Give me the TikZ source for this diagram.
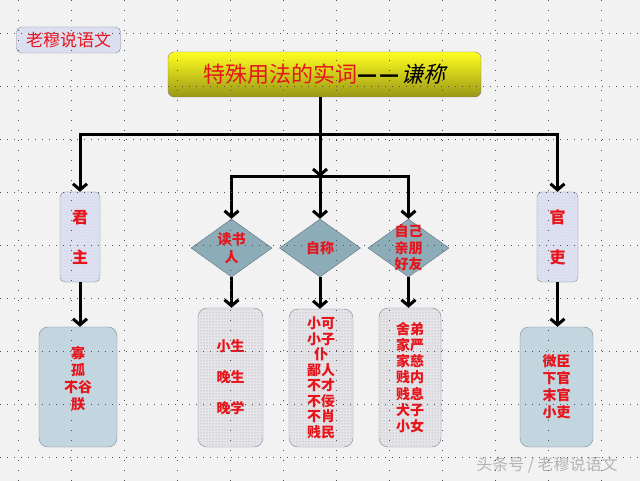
\documentclass[tikz,border=0pt]{standalone}
\usepackage{fontspec}
\usepackage{xcolor}
\usetikzlibrary{arrows.meta,positioning,shapes.geometric,patterns}
\newfontfamily\cjk{Noto Sans CJK SC}
\newfontfamily\cjkit[FakeSlant=0.25]{Noto Sans CJK SC}
\definecolor{bgc}{HTML}{F2F2F2}
\definecolor{redc}{HTML}{E8141C}
\definecolor{edgec}{HTML}{7D8A99}
\definecolor{lavc}{HTML}{D9DDEE}
\definecolor{bluec}{HTML}{C3D5DE}
\definecolor{diac}{HTML}{8CADB8}
\definecolor{dotc}{HTML}{505050}
\definecolor{stipc}{HTML}{E6E6EA}
\definecolor{ylwtop}{HTML}{FFFF20}
\definecolor{ylwbot}{HTML}{9A9616}
\definecolor{wmc}{HTML}{B4B4B4}
\tikzset{
  ar/.style={-{Straight Barb[length=6pt,width=14pt]},line width=3pt,black},
  txt/.style={text=redc,align=center},
  tagbox/.style={draw=edgec,rounded corners=5pt,fill=lavc,
    postaction={pattern=dots,pattern color=white},txt,inner sep=0pt},
  bluebox/.style={draw=edgec,rounded corners=9pt,fill=bluec,txt,inner sep=0pt},
  dotbox/.style={draw=edgec,rounded corners=9pt,fill=stipc,
    postaction={pattern=dots,pattern color=gray!80},txt,inner sep=0pt},
  dia/.style={diamond,draw=edgec!80!black,fill=diac,minimum width=81pt,minimum height=58pt,inner sep=0pt},
  dtxt/.style={txt,font=\cjk\bfseries\fontsize{14}{16.5}\selectfont,inner sep=0pt},
  titlebox/.style={draw=gray,rounded corners=6pt,top color=ylwtop,middle color=yellow!92!black,
    bottom color=ylwbot,minimum width=313pt,minimum height=45pt,inner sep=0pt},
  gdv/.style={dotc,line width=0.8pt,dash pattern=on 0.8pt off 9.2pt},
  gdh/.style={dotc,line width=0.8pt,dash pattern=on 0.8pt off 6.2pt}
}

\begin{document}
\begin{tikzpicture}[x=1pt,y=-1pt]
\useasboundingbox[fill=bgc] (0,0) rectangle (640,481);

\node[tagbox,minimum width=104pt,minimum height=26pt,font=\cjk\fontsize{17}{20}\selectfont] (tag) at (68.5,40) {老穆说语文};
\node[titlebox,font=\cjk\fontsize{22}{24}\selectfont] (title) at (324.5,74.5)
  {\textcolor{redc}{特殊用法的实词}{\bfseries —}\hspace{1.5pt}{\bfseries —}\hspace{2pt}{\cjkit 谦称}};

\node[tagbox,minimum width=40pt,minimum height=90pt,font=\cjk\bfseries\fontsize{16}{40}\selectfont] (jun) at (80,237) {君\\主};
\node[tagbox,minimum width=41pt,minimum height=90pt,font=\cjk\bfseries\fontsize{16}{40}\selectfont] (guan) at (557.5,237) {官\\吏};

\node[dia,label={[dtxt,font=\cjk\bfseries\fontsize{14}{18}\selectfont]center:读书\\人}] (dsr) at (231.5,248) {};
\node[dia,label={[dtxt]center:自称}] (zc) at (320,248) {};
\node[dia,label={[dtxt]center:自己\\亲朋\\好友}] (zj) at (408.5,248) {};

\node[bluebox,minimum width=78pt,minimum height=120pt,
  label={[txt,yshift=8pt,font=\cjk\bfseries\fontsize{14}{17}\selectfont]center:寡\\孤\\不谷\\朕}] (gua) at (78,387) {};
\node[dotbox,minimum width=65pt,minimum height=139pt,font=\cjk\bfseries\fontsize{14}{31}\selectfont] (xs) at (230.5,377.5) {小生\\晚生\\晚学};
\node[dotbox,minimum width=64pt,minimum height=138pt,font=\cjk\bfseries\fontsize{14}{15.5}\selectfont] (xk) at (321,378) {小可\\小子\\仆\\鄙人\\不才\\不佞\\不肖\\贱民};
\node[dotbox,minimum width=62pt,minimum height=139pt,font=\cjk\bfseries\fontsize{14}{16.2}\selectfont] (sd) at (410,377.5) {舍弟\\家严\\家慈\\贱内\\贱息\\犬子\\小女};
\node[bluebox,minimum width=73pt,minimum height=120pt,font=\cjk\bfseries\fontsize{14}{17}\selectfont] (wei) at (556.5,387) {微臣\\下官\\末官\\小吏};

\node[text=wmc,font=\cjk\fontsize{16}{18}\selectfont] (wm) at (547,465) {头条号 / 老穆说语文};

% connectors
\coordinate (hub) at (320,135);
\coordinate (bar) at (320,177);
\draw[ar] (title.south -| hub) -- (bar);
\draw[ar] (hub) -| (jun.north);
\draw[ar] (hub) -| (guan.north);
\draw[ar] (bar) -| (dsr.north);
\draw[ar] (bar) -- (zc.north);
\draw[ar] (bar) -| (zj.north);
\draw[ar] (jun.south) -- (jun.south |- gua.north);
\draw[ar] (guan.south) -- (guan.south |- wei.north);
\draw[ar] (dsr.south) -- (dsr.south |- xs.north);
\draw[ar] (zc.south) -- (zc.south |- xk.north);
\draw[ar] (zj.south) -- (zj.south |- sd.north);

% grid dots
\foreach \gx in {18,71,...,601} \draw[gdv] (\gx,0) -- (\gx,481);
\foreach \gy in {33,86,...,457} \draw[gdh] (0,\gy) -- (640,\gy);
\end{tikzpicture}
\end{document}
